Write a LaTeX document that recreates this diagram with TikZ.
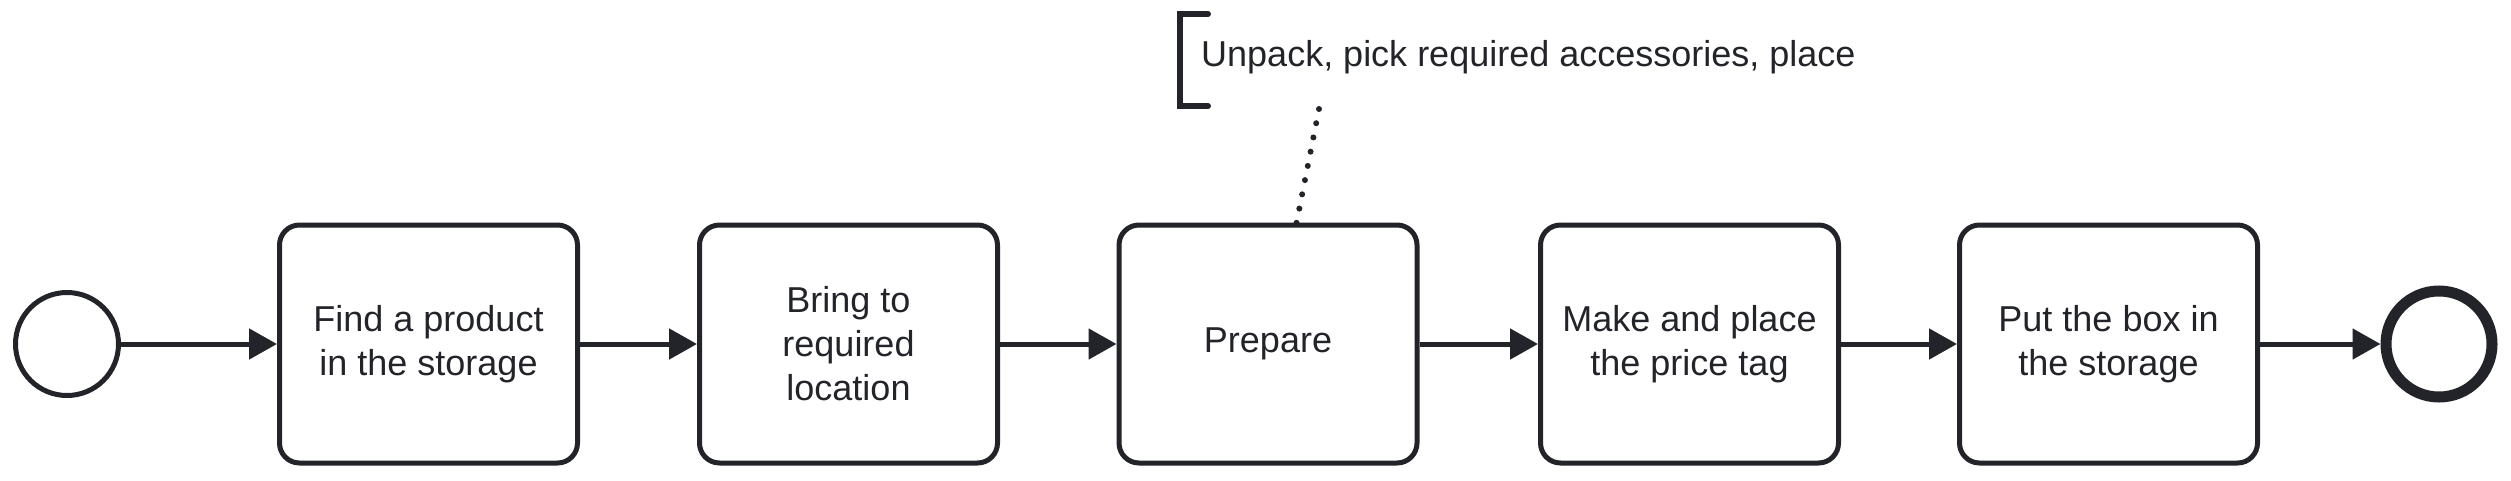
\documentclass[tikz,border=0pt]{standalone}
\usepackage{fontspec}
\setmainfont{Liberation Sans}
\usetikzlibrary{arrows.meta}
\definecolor{ink}{RGB}{34,36,41}
\begin{document}
\begin{tikzpicture}[x=1pt,y=-1pt,
  task/.style={draw=ink,line width=5pt,rounded corners=20pt,minimum width=298pt,minimum height=238pt,align=center,text=ink,font=\fontsize{36}{44}\selectfont,inner sep=0pt},
  flow/.style={draw=ink,line width=5pt,-{Triangle[length=28pt,width=30pt]}},
  startev/.style={draw=ink,circle,line width=5pt,minimum size=103pt,inner sep=0pt},
  endev/.style={draw=ink,circle,line width=11pt,minimum size=106pt,inner sep=0pt},
  assoc/.style={draw=ink,line width=6pt,line cap=round,dash pattern=on 0pt off 14.5pt}
]
\useasboundingbox (0,0) rectangle (2511,480);
\node[startev] (s) at (67,344) {};
\node[task] (t1) at (428.5,344) {Find a product\\in the storage};
\node[task] (t2) at (848.5,344) {Bring to\\required\\location};
\node[task] (t3) at (1268,344) {Prepare};
\node[task] (t4) at (1689.5,344) {Make and place\\the price tag};
\node[task] (t5) at (2108.5,344) {Put the box in\\the storage};
\node[endev] (e) at (2439,344) {};
\draw[flow] (s) -- (t1);
\draw[flow] (t1) -- (t2);
\draw[flow] (t2) -- (t3);
\draw[flow] (t3) -- (t4);
\draw[flow] (t4) -- (t5);
\draw[flow] (t5) -- (e);
% annotation
\node[anchor=west,text=ink,font=\fontsize{36}{44}\selectfont,inner sep=0pt] (ann) at (1201,57) {Unpack, pick required accessories, place};
\coordinate (brk) at (1180,60);
\draw[ink,line width=6pt,line cap=round,line join=miter] ([xshift=28pt,yshift=-46pt]brk) -- ([yshift=-46pt]brk) -- ([yshift=46pt]brk) -- ([xshift=28pt,yshift=46pt]brk);
\coordinate (annfoot) at (1319,109);
\draw[assoc] (annfoot) -- ([xshift=27pt,yshift=-8pt]t3.north);
\end{tikzpicture}
\end{document}
